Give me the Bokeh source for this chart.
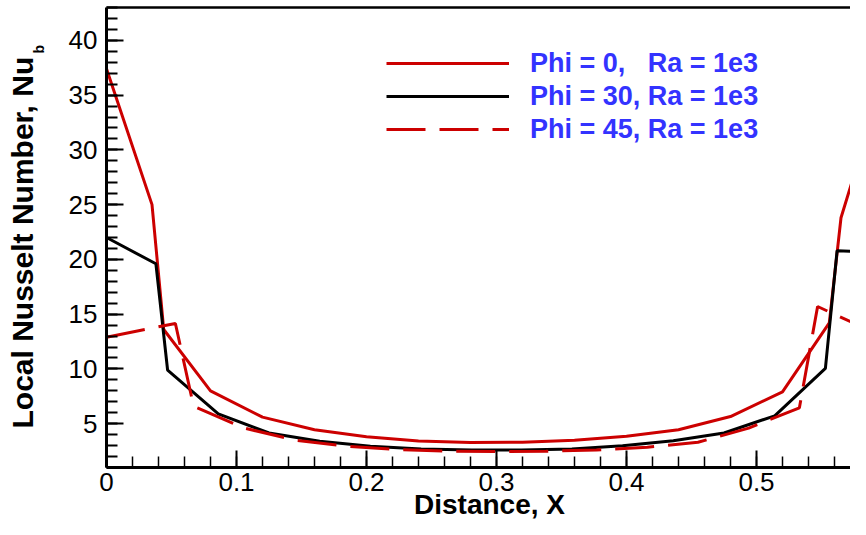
from math import pi
from bokeh.plotting import figure
from bokeh.models import (Range1d, SingleIntervalTicker, FixedTicker, NumeralTickFormatter,
                          Label, Legend, LegendItem, LinearAxis)
from bokeh.embed import file_html
from bokeh.resources import INLINE

# ---- data ----
x_phi0 = [0.0, 0.035, 0.044, 0.08, 0.12, 0.16, 0.20, 0.24, 0.28, 0.32, 0.36, 0.40,
          0.44, 0.48, 0.52, 0.556, 0.565, 0.60]
y_phi0 = [37.4, 25.0, 13.6, 8.0, 5.6, 4.45, 3.8, 3.42, 3.28, 3.3, 3.48, 3.85,
          4.45, 5.65, 7.9, 14.2, 23.8, 37.4]

x_phi30 = [0.0, 0.038, 0.047, 0.086, 0.125, 0.164, 0.203, 0.242, 0.281, 0.319, 0.358,
           0.397, 0.436, 0.475, 0.514, 0.553, 0.562, 0.60]
y_phi30 = [22.0, 19.6, 9.9, 5.9, 4.15, 3.4, 2.95, 2.7, 2.6, 2.6, 2.7,
           2.98, 3.45, 4.15, 5.72, 10.05, 20.8, 20.6]

x_phi45 = [0.0, 0.053, 0.067, 0.106, 0.145, 0.184, 0.223, 0.262, 0.30, 0.338, 0.377,
           0.416, 0.455, 0.494, 0.533, 0.547, 0.60]
y_phi45 = [12.9, 14.15, 6.6, 4.6, 3.5, 2.95, 2.65, 2.48, 2.45, 2.48, 2.6,
           2.85, 3.3, 4.6, 6.45, 15.7, 12.8]

labels = ["Phi = 0,\u00a0\u00a0\u00a0Ra = 1e3", "Phi = 30, Ra = 1e3", "Phi = 45, Ra = 1e3"]
x_title = "Distance, X"
y_title = "Local Nusselt Number, Nu"
y_title_sub = "b"

X_MIN, X_MAX = 0.0, 0.6
Y_MIN, Y_MAX = 1.0, 43.0

RED = "#CC0000"
BLACK = "#000000"
BLUE = "#3333FF"
FONT = "Liberation Sans"

W, H = 850, 519
# pixel placement of the plotting box (left, top, bottom) and x scale
PX_LEFT, PX_TOP, PX_BOTTOM = 106, 7, 467
PX_PER_X = 1300.0
PY_PER_Y = (PX_BOTTOM - PX_TOP) / (Y_MAX - Y_MIN)

x_start = X_MIN - PX_LEFT / PX_PER_X
x_end = X_MIN + (W - PX_LEFT) / PX_PER_X
y_end = Y_MAX + PX_TOP / PY_PER_Y
y_start = Y_MIN - (H - PX_BOTTOM) / PY_PER_Y

p = figure(width=W, height=H, output_backend="svg", toolbar_location=None,
           x_range=Range1d(x_start, x_end), y_range=Range1d(y_start, y_end),
           x_axis_type=None, y_axis_type=None,
           min_border_left=0, min_border_right=0, min_border_top=0, min_border_bottom=0)
p.outline_line_color = None
p.background_fill_color = "white"
p.border_fill_color = "white"


def style_axis(ax, label_size="26px"):
    ax.axis_line_width = 3
    ax.axis_line_color = "black"
    ax.major_tick_in = 17
    ax.major_tick_out = 0
    ax.minor_tick_in = 11
    ax.minor_tick_out = 0
    ax.major_tick_line_width = 2
    ax.minor_tick_line_width = 2
    ax.major_tick_line_color = "black"
    ax.minor_tick_line_color = "black"
    ax.major_label_text_font = FONT
    ax.major_label_text_font_size = label_size
    ax.major_label_text_color = "black"


xax = LinearAxis(fixed_location=Y_MIN, bounds=(X_MIN, X_MAX),
                 ticker=SingleIntervalTicker(interval=0.1, num_minor_ticks=5),
                 formatter=NumeralTickFormatter(format="0.[0]"))
style_axis(xax)
xax.minor_tick_line_width = 1.5
xax.major_label_standoff = 5
p.add_layout(xax, "below")

yax = LinearAxis(fixed_location=X_MIN, bounds=(Y_MIN, Y_MAX),
                 ticker=SingleIntervalTicker(interval=5, num_minor_ticks=5))
style_axis(yax)
yax.major_label_standoff = 9
p.add_layout(yax, "left")

# top border of the plotting box
topax = LinearAxis(fixed_location=Y_MAX, bounds=(X_MIN, X_MAX),
                   ticker=FixedTicker(ticks=[]), axis_line_width=2.5,
                   major_tick_in=0, major_tick_out=0, minor_tick_in=0, minor_tick_out=0)
p.add_layout(topax, "above")

r0 = p.line(x_phi0, y_phi0, line_color=RED, line_width=3)
r1 = p.line(x_phi30, y_phi30, line_color=BLACK, line_width=3)
r2 = p.line(x_phi45, y_phi45, line_color=RED, line_width=3, line_dash="39 14")

ROW = 32
legend_top = 47
legend_h = 3 * ROW + 2
legend = Legend(items=[LegendItem(label=labels[0], renderers=[r0]),
                       LegendItem(label=labels[1], renderers=[r1]),
                       LegendItem(label=labels[2], renderers=[r2])],
                location=(386, H - legend_top - legend_h), glyph_width=123,
                glyph_height=ROW, label_height=ROW,
                label_standoff=21, spacing=1, padding=0, margin=0,
                border_line_color=None, background_fill_alpha=0,
                label_text_font=FONT, label_text_font_style="bold",
                label_text_font_size="27px", label_text_color=BLUE)
p.add_layout(legend)

# axis titles (screen units from the bottom-left corner of the canvas)
p.add_layout(Label(x=22, y=H - 428, x_units="screen", y_units="screen", text=y_title,
                   angle=pi / 2, text_font=FONT, text_font_style="bold",
                   text_font_size="30px", text_align="left", text_baseline="alphabetic",
                   text_color="black"))
p.add_layout(Label(x=38.5, y=H - 53, x_units="screen", y_units="screen", text=y_title_sub,
                   angle=pi / 2, text_font=FONT, text_font_style="bold",
                   text_font_size="14px", text_align="left", text_baseline="alphabetic",
                   text_color="black"))
p.add_layout(Label(x=489, y=H - 514 + 10, x_units="screen", y_units="screen", text=x_title,
                   text_font=FONT, text_font_style="bold", text_font_size="28px",
                   text_align="center", text_baseline="alphabetic", text_color="black"))

open("out.html", "w").write(file_html(p, INLINE))
